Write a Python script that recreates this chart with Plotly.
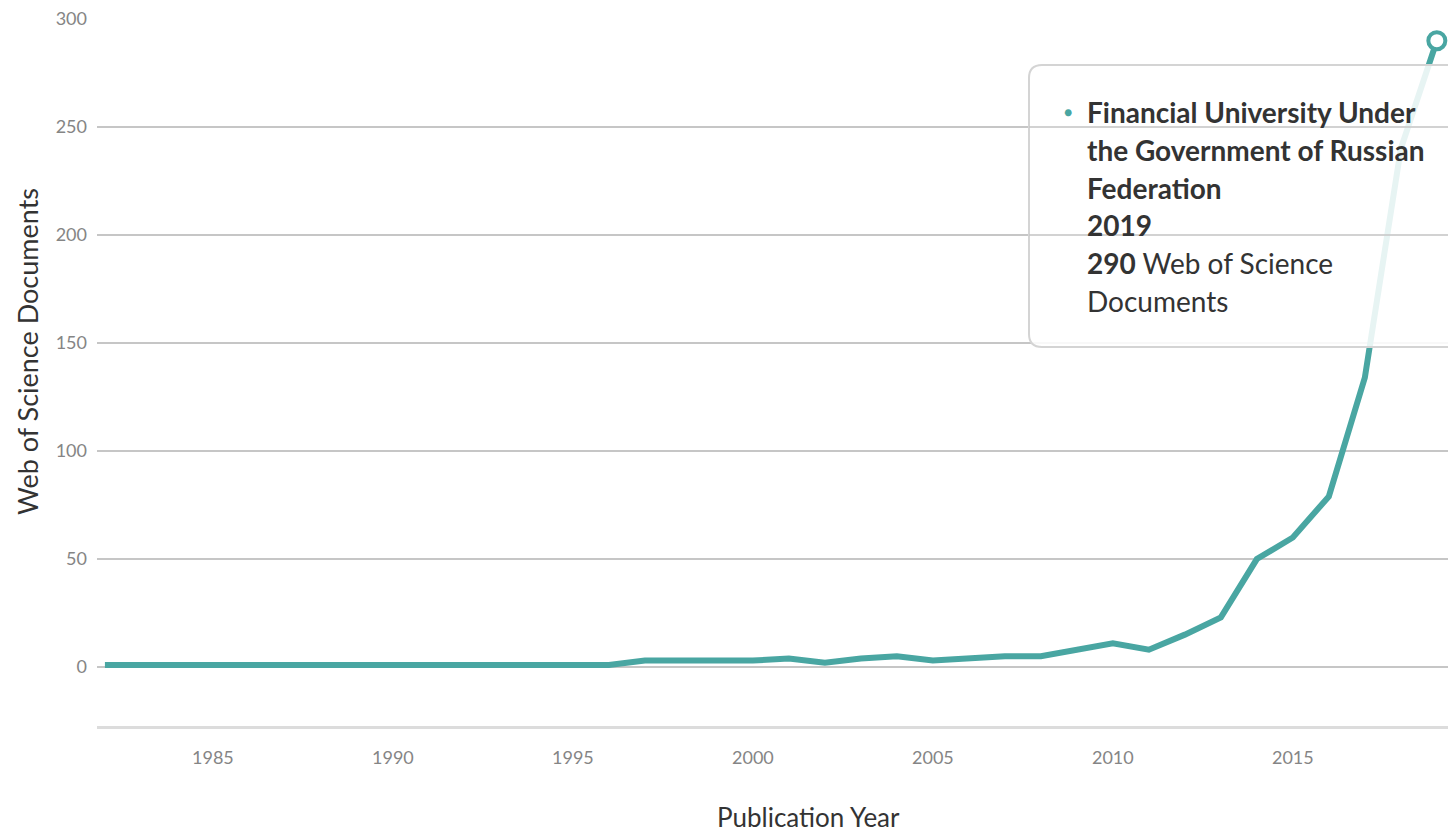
import plotly.graph_objects as go

years = list(range(1982, 2020))
docs = [1, 1, 1, 1, 1, 1, 1, 1, 1, 1, 1, 1, 1, 1, 1,
        3, 3, 3, 3, 4, 2, 4, 5, 3, 4, 5, 5, 8, 11, 8, 15, 23,
        50, 60, 79, 134, 240, 290]
x_ticks = [1985, 1990, 1995, 2000, 2005, 2010, 2015]
y_ticks = [0, 50, 100, 150, 200, 250, 300]
series_name = "Financial University Under the Government of Russian Federation"
hover_year = 2019
hover_value = 290

W, H = 1448, 835
L, R, T, B = 97, 0, 19, 109
PW, PH = W - L - R, H - T - B
TEAL = "#49a6a2"
FONT = "Lato"


def px(x):
    return (x - L) / PW


def py(y):
    return (H - B - y) / PH


fig = go.Figure()
fig.add_trace(go.Scatter(
    x=years, y=docs, mode="lines", name=series_name,
    line=dict(color=TEAL, width=6), hoverinfo="skip", showlegend=False))
fig.add_trace(go.Scatter(
    x=[hover_year], y=[hover_value], mode="markers",
    marker=dict(size=17, color="white", line=dict(color=TEAL, width=4)),
    hoverinfo="skip", showlegend=False, cliponaxis=False))

# tooltip box (rounded rectangle)
x0, x1, y0, y1, r = 1029, 1470, 65, 347, 13
path = (f"M {px(x0 + r)} {py(y0)} L {px(x1 - r)} {py(y0)} "
        f"Q {px(x1)} {py(y0)} {px(x1)} {py(y0 + r)} L {px(x1)} {py(y1 - r)} "
        f"Q {px(x1)} {py(y1)} {px(x1 - r)} {py(y1)} L {px(x0 + r)} {py(y1)} "
        f"Q {px(x0)} {py(y1)} {px(x0)} {py(y1 - r)} L {px(x0)} {py(y0 + r)} "
        f"Q {px(x0)} {py(y0)} {px(x0 + r)} {py(y0)} Z")
fig.add_shape(type="path", path=path, xref="paper", yref="paper",
              fillcolor="rgba(255,255,255,0.87)",
              line=dict(color="#d4d4d4", width=2), layer="above")
# gridlines that show over the tooltip
for gv in (200, 250):
    fig.add_shape(type="line", xref="paper", yref="y", x0=px(x0), x1=1, y0=gv, y1=gv,
                  line=dict(color="#c6c6c6", width=1.5), layer="above")

lines = ["<b>Financial University Under</b>",
         "<b>the Government of Russian</b>",
         "<b>Federation</b>",
         f"<b>{hover_year}</b>",
         f"<b>{hover_value}</b> Web of Science",
         "Documents"]
for i, t in enumerate(lines):
    fig.add_annotation(text=t, xref="paper", yref="paper", x=px(1085), y=py(112 + 37.8 * i),
                       xanchor="left", yanchor="middle", showarrow=False,
                       font=dict(family=FONT, size=28, color="#333333"))
fig.add_annotation(text="●", xref="paper", yref="paper", x=px(1068), y=py(111),
                   xanchor="center", yanchor="middle", showarrow=False,
                   font=dict(family=FONT, size=14, color=TEAL))

# axis titles
fig.add_annotation(text="Web of Science Documents", xref="paper", yref="paper",
                   x=px(27), y=py(352), textangle=-90, showarrow=False,
                   xanchor="center", yanchor="middle",
                   font=dict(family=FONT, size=27, color="#333333"))
fig.add_annotation(text="Publication Year", xref="paper", yref="paper",
                   x=px(808), y=py(817), showarrow=False,
                   xanchor="center", yanchor="middle",
                   font=dict(family=FONT, size=26, color="#333333"))

fig.update_layout(
    width=W, height=H, margin=dict(l=L, r=R, t=T, b=B, autoexpand=False),
    paper_bgcolor="white", plot_bgcolor="white",
    hovermode=False,
    xaxis=dict(range=[1981.78, 2019.31], tickvals=x_ticks, showgrid=False,
               zeroline=False, showline=True, linecolor="#dcdcdc", linewidth=3,
               ticks="", ticklabelstandoff=13,
               tickfont=dict(family=FONT, size=18, color="#858585")),
    yaxis=dict(range=[-27.3, 300.05], tickvals=y_ticks, showgrid=True,
               gridcolor="#c6c6c6", gridwidth=1.5, zeroline=False, showline=False,
               ticks="", ticklabelstandoff=9,
               tickfont=dict(family=FONT, size=18, color="#858585")),
)

fig.write_html("out.html", config={"displayModeBar": False},
               post_script="document.body.style.margin='0';document.body.style.overflow='hidden';")
